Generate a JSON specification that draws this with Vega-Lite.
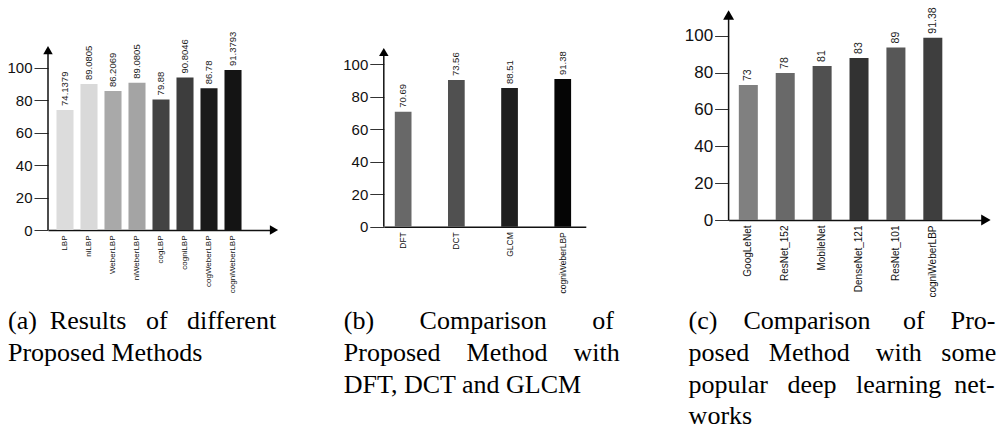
{
  "$schema": "https://vega.github.io/schema/vega-lite/v6.json",
  "background": "white",
  "padding": {"left": 6, "top": 7, "right": 0, "bottom": 0},
  "config": {
    "view": {"stroke": null},
    "axisX": {"domainColor": "#111", "domainWidth": 1.5, "ticks": false, "labelAngle": -90, "labelFont": "Liberation Sans", "labelColor": "#111", "labelPadding": 5, "grid": false},
    "axisY": {"domain": false, "tickSize": 14, "tickColor": "#333", "tickWidth": 1, "labelFont": "Liberation Sans", "labelFontSize": 15, "labelColor": "#111", "labelPadding": 2, "grid": false},
    "title": {"font": "Liberation Serif", "fontSize": 26, "fontWeight": "normal", "color": "black", "orient": "bottom", "anchor": "start", "frame": "group", "lineHeight": 31.7}
  },
  "datasets": {
    "proposed": [
      {"method": "LBP", "accuracy": 74.0, "label": "74.1379"},
      {"method": "niLBP", "accuracy": 90.0, "label": "89.0805"},
      {"method": "WeberLBP", "accuracy": 85.6, "label": "86.2069"},
      {"method": "niWeberLBP", "accuracy": 90.8, "label": "89.0805"},
      {"method": "cogLBP", "accuracy": 80.5, "label": "79.88"},
      {"method": "cogniLBP", "accuracy": 94.0, "label": "90.8046"},
      {"method": "cogWeberLBP", "accuracy": 87.3, "label": "86.78"},
      {"method": "cogniWeberLBP", "accuracy": 98.6, "label": "91.3793"}
    ],
    "transforms": [
      {"method": "DFT", "accuracy": 70.8, "label": "70.69"},
      {"method": "DCT", "accuracy": 90.3, "label": "73.56"},
      {"method": "GLCM", "accuracy": 85.4, "label": "88.51"},
      {"method": "cogniWeberLBP", "accuracy": 91.0, "label": "91.38"}
    ],
    "networks": [
      {"method": "GoogLeNet", "accuracy": 73.2, "label": "73"},
      {"method": "ResNet_152", "accuracy": 79.8, "label": "78"},
      {"method": "MobileNet", "accuracy": 83.6, "label": "81"},
      {"method": "DenseNet_121", "accuracy": 87.9, "label": "83"},
      {"method": "ResNet_101", "accuracy": 93.6, "label": "89"},
      {"method": "cogniWeberLBP", "accuracy": 98.9, "label": "91.38"}
    ]
  },
  "bounds": "flush",
  "spacing": 109.8,
  "resolve": {"scale": {"x": "independent", "y": "independent", "color": "independent"}},
  "hconcat": [
    {
      "width": 226,
      "height": 215,
      "title": {"text": ["(a)\u00a0\u00a0Results\u00a0\u00a0\u00a0of\u00a0\u00a0\u00a0different", "Proposed Methods"], "dx": -40, "offset": 15.7},
      "layer": [
        {
          "data": {"name": "proposed"},
          "encoding": {
            "x": {"field": "method", "type": "nominal", "sort": null, "title": null, "scale": {"paddingInner": 0.29, "paddingOuter": 0.853, "align": 0.207}, "axis": {"labelFontSize": 8}},
            "y": {"field": "accuracy", "type": "quantitative", "title": null, "scale": {"domain": [0, 132.5], "nice": false}, "axis": {"values": [0, 10, 20, 30, 40, 50, 60, 70, 80, 90, 100], "labelExpr": "datum.value % 20 === 0 ? datum.label : ''"}}
          },
          "layer": [
            {
              "mark": {"type": "bar"},
              "encoding": {
                "color": {"field": "method", "type": "nominal", "legend": null, "scale": {"domain": ["LBP", "niLBP", "WeberLBP", "niWeberLBP", "cogLBP", "cogniLBP", "cogWeberLBP", "cogniWeberLBP"], "range": ["#dcdcdc", "#d9d9d9", "#a9a9a9", "#a4a4a4", "#434343", "#3d3d3d", "#1a1a1a", "#141414"]}}
              }
            },
            {
              "mark": {"type": "text", "angle": -90, "align": "left", "baseline": "middle", "dx": 4, "font": "Liberation Sans", "fontSize": 9.5, "color": "#222"},
              "encoding": {"text": {"field": "label"}}
            }
          ]
        },
        {
          "data": {"values": [{}]},
          "mark": {"type": "rule", "color": "#111", "strokeWidth": 1.5},
          "encoding": {
            "x": {"value": 0},
            "y": {"datum": 0, "type": "quantitative", "title": null},
            "y2": {"datum": 110.9}
          }
        },
        {
          "data": {"values": [{}]},
          "mark": {"type": "point", "shape": "triangle-up", "filled": true, "size": 90, "color": "black", "opacity": 1},
          "encoding": {
            "x": {"value": 0},
            "y": {"datum": 110.9, "type": "quantitative", "title": null}
          }
        },
        {
          "data": {"values": [{}]},
          "mark": {"type": "point", "shape": "triangle-right", "filled": true, "size": 90, "color": "black", "opacity": 1, "x": "width"},
          "encoding": {"y": {"datum": 0, "type": "quantitative", "title": null}}
        }
      ]
    },
    {
      "width": 234.6,
      "height": 211.7,
      "title": {"text": ["(b)\u00a0\u00a0\u00a0\u00a0\u00a0\u00a0\u00a0Comparison\u00a0\u00a0\u00a0\u00a0\u00a0\u00a0\u00a0of", "Proposed\u00a0\u00a0\u00a0\u00a0Method\u00a0\u00a0\u00a0\u00a0with", "DFT, DCT and GLCM"], "dx": -40, "offset": 15.5},
      "layer": [
        {
          "data": {"name": "transforms"},
          "encoding": {
            "x": {"field": "method", "type": "nominal", "sort": null, "title": null, "scale": {"range": [0, 202], "paddingInner": 0.686, "paddingOuter": 0.2415, "align": 0.428}, "axis": {"labelFontSize": 8.5}},
            "y": {"field": "accuracy", "type": "quantitative", "title": null, "scale": {"domain": [0, 130.4], "nice": false}, "axis": {"values": [0, 10, 20, 30, 40, 50, 60, 70, 80, 90, 100], "labelExpr": "datum.value % 20 === 0 ? datum.label : ''"}}
          },
          "layer": [
            {
              "mark": {"type": "bar"},
              "encoding": {
                "color": {"field": "method", "type": "nominal", "legend": null, "scale": {"domain": ["DFT", "DCT", "GLCM", "cogniWeberLBP"], "range": ["#686868", "#505050", "#1e1e1e", "#050505"]}}
              }
            },
            {
              "mark": {"type": "text", "angle": -90, "align": "left", "baseline": "middle", "dx": 4, "font": "Liberation Sans", "fontSize": 9.5, "color": "#222"},
              "encoding": {"text": {"field": "label"}}
            }
          ]
        },
        {
          "data": {"values": [{}]},
          "mark": {"type": "rule", "color": "#111", "strokeWidth": 1.5},
          "encoding": {
            "x": {"value": 0},
            "y": {"datum": 0, "type": "quantitative", "title": null},
            "y2": {"datum": 107.6}
          }
        },
        {
          "data": {"values": [{}]},
          "mark": {"type": "point", "shape": "triangle-up", "filled": true, "size": 90, "color": "black", "opacity": 1},
          "encoding": {
            "x": {"value": 0},
            "y": {"datum": 107.6, "type": "quantitative", "title": null}
          }
        }
      ]
    },
    {
      "width": 257.3,
      "height": 205,
      "title": {"text": ["(c)\u00a0\u00a0\u00a0\u00a0Comparison\u00a0\u00a0\u00a0\u00a0\u00a0of\u00a0\u00a0\u00a0\u00a0Pro-", "posed\u00a0\u00a0\u00a0Method\u00a0\u00a0\u00a0\u00a0with\u00a0\u00a0\u00a0some", "popular\u00a0\u00a0\u00a0deep\u00a0\u00a0\u00a0learning\u00a0\u00a0net-", "works"], "dx": -40, "offset": 11.2},
      "layer": [
        {
          "data": {"name": "networks"},
          "encoding": {
            "x": {"field": "method", "type": "nominal", "sort": null, "title": null, "scale": {"paddingInner": 0.485, "paddingOuter": 0.729, "align": 0.19}, "axis": {"labelFontSize": 10}},
            "y": {"field": "accuracy", "type": "quantitative", "title": null, "scale": {"domain": [0, 111.2], "nice": false}, "axis": {"values": [0, 10, 20, 30, 40, 50, 60, 70, 80, 90, 100], "labelExpr": "datum.value % 20 === 0 ? datum.label : ''", "labelFontSize": 17}}
          },
          "layer": [
            {
              "mark": {"type": "bar"},
              "encoding": {
                "color": {"field": "method", "type": "nominal", "legend": null, "scale": {"domain": ["GoogLeNet", "ResNet_152", "MobileNet", "DenseNet_121", "ResNet_101", "cogniWeberLBP"], "range": ["#808080", "#696969", "#505050", "#323232", "#575757", "#3e3e3e"]}}
              }
            },
            {
              "mark": {"type": "text", "angle": -90, "align": "left", "baseline": "middle", "dx": 4, "font": "Liberation Sans", "fontSize": 10.5, "color": "#222"},
              "encoding": {"text": {"field": "label"}}
            }
          ]
        },
        {
          "data": {"values": [{}]},
          "mark": {"type": "rule", "color": "#111", "strokeWidth": 1.5},
          "encoding": {
            "x": {"value": 0},
            "y": {"datum": 0, "type": "quantitative", "title": null},
            "y2": {"datum": 111.2}
          }
        },
        {
          "data": {"values": [{}]},
          "mark": {"type": "point", "shape": "triangle-up", "filled": true, "size": 120, "color": "black", "opacity": 1},
          "encoding": {
            "x": {"value": 0},
            "y": {"datum": 111.2, "type": "quantitative", "title": null}
          }
        },
        {
          "data": {"values": [{}]},
          "mark": {"type": "point", "shape": "triangle-right", "filled": true, "size": 120, "color": "black", "opacity": 1, "x": "width"},
          "encoding": {"y": {"datum": 0, "type": "quantitative", "title": null}}
        }
      ]
    }
  ]
}
